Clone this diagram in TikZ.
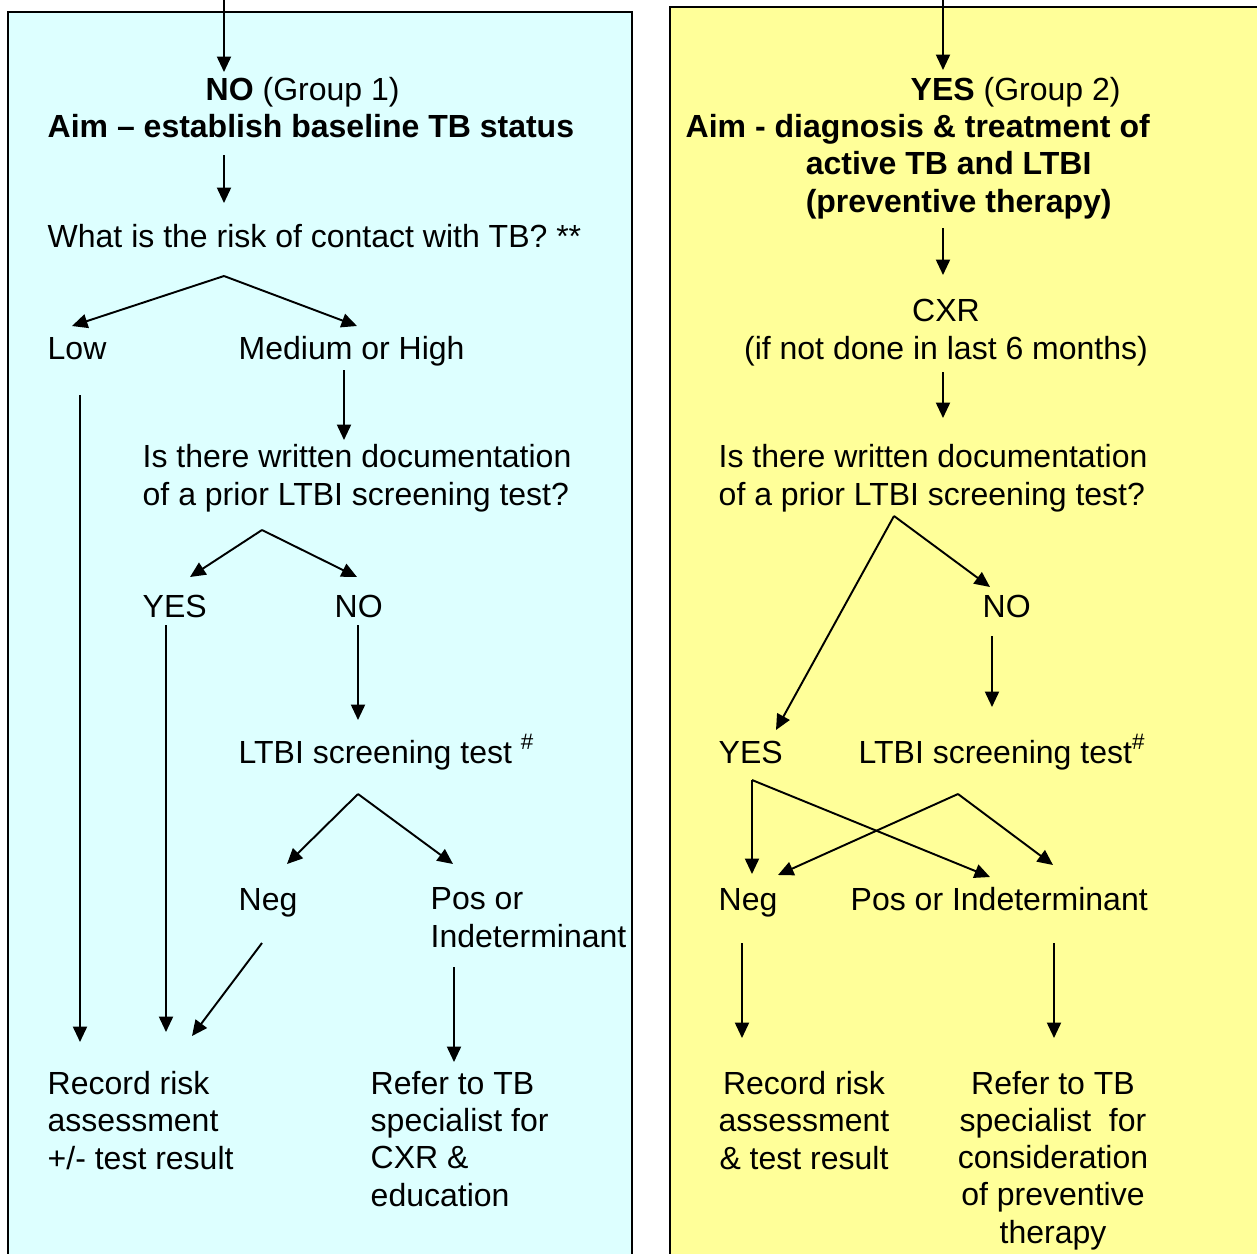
\documentclass[tikz,border=0pt]{standalone}
\usepackage{fontspec}
\setmainfont{Liberation Sans}
\usepackage{tikz}
\usetikzlibrary{calc,arrows.meta}
\definecolor{grpone}{HTML}{DDFFFF}
\definecolor{grptwo}{HTML}{FFFF99}

\begin{document}
\begin{tikzpicture}[x=0.01cm, y=-0.01cm,
    txt/.style={inner sep=0pt, anchor=base west, align=left, font=\fontsize{9.1}{10.53}\selectfont},
    ctxt/.style={txt, anchor=base, align=center},
    arr/.style={line width=0.55pt, -{Triangle[length=4.4pt, width=4pt]}}
]
    \useasboundingbox (0,0) rectangle (1257,1254);
    \clip (0,0) rectangle (1257,1254);

    % the two group panels
    \draw [fill=grpone, line width=0.6pt] (8,12) rectangle (632,1280);
    \draw [fill=grptwo, line width=0.6pt] (670,7) rectangle (1280,1280);

    % group 1 (multi-line nodes sit on their last line)
    \node [txt] (grp1) at (205,100) {\textbf{NO} (Group 1)};
    \node [txt, font=\fontsize{9.1}{10.53}\selectfont\bfseries] (aim1) at (47,137) {Aim \textendash{} establish baseline TB status};
    \node [txt] (risk) at (47,247) {What is the risk of contact with TB? **};
    \node [txt] (low) at (47,359) {Low};
    \node [txt] (med) at (238,359) {Medium or High};
    \node [txt] (doc1) at (142,505) {Is there written documentation\\of a prior LTBI screening test?};
    \node [txt] (yes1) at (142,617) {YES};
    \node [txt] (nob1) at (334,617) {NO};
    \node [txt] (ltbi1) at (238,763) {LTBI screening test \textsuperscript{\#}};
    \node [txt] (neg1) at (238,910) {Neg};
    \node [txt] (pos1) at (430,947) {Pos or\\Indeterminant};
    \node [txt] (rec1) at (47,1169) {Record risk\\assessment\\+/- test result};
    \node [txt] (ref1) at (370,1206) {Refer to TB\\specialist for\\CXR \&\\education};

    % group 2
    \node [txt] (grp2) at (910,100) {\textbf{YES} (Group 2)};
    \node [txt, font=\fontsize{9.1}{10.53}\selectfont\bfseries] (aim2) at (685,212) {Aim - diagnosis \& treatment of\\\hspace*{1.2cm}active TB and LTBI\\\hspace*{1.2cm}(preventive therapy)};
    \node [ctxt] (cxr) at (946,359) {CXR\\(if not done in last 6 months)};
    \node [txt] (doc2) at (718,505) {Is there written documentation\\of a prior LTBI screening test?};
    \node [txt] (nob2) at (982,617) {NO};
    \node [txt] (yes2) at (718,763) {YES};
    \node [txt] (ltbi2) at (858,763) {LTBI screening test\textsuperscript{\#}};
    \node [txt] (neg2) at (718,910) {Neg};
    \node [txt] (pos2) at (850,910) {Pos or Indeterminant};
    \node [ctxt] (rec2) at (804,1169) {Record risk\\assessment\\\& test result};
    \node [ctxt] (ref2) at (1053,1243) {Refer to TB\\specialist\ \ for\\consideration\\of preventive\\therapy};

    % fork points
    \coordinate (top1) at (224,-5);
    \coordinate (top2) at (943,-5);
    \coordinate (fork1) at ($(risk.base west)+(177,29)$);
    \coordinate (fork2) at ($(doc1.base west)+(120,25)$);
    \coordinate (fork3) at ($(ltbi1.base west)+(120,31)$);
    \coordinate (fork4) at ($(doc2.base west)+(176,11)$);
    \coordinate (fork5) at ($(yes2.base west)+(34,17)$);
    \coordinate (fork6) at ($(ltbi2.base west)+(100,31)$);

    % group 1 arrows
    \draw [arr] (top1) -- ($(top1 |- grp1.base)+(0,-28)$);
    \draw [arr] ($(top1 |- aim1.base)+(0,18)$) -- ($(top1 |- risk.base)+(0,-44)$);
    \draw [arr] (fork1) -- ($(low.base west)+(25,-33)$);
    \draw [arr] (fork1) -- ($(med.base west)+(119,-33)$);
    \draw [arr] ($(med.base west)+(106,11)$) -- ($(doc1.base west)+(202,-65)$);
    \draw [arr] (fork2) -- ($(yes1.base west)+(48,-40)$);
    \draw [arr] (fork2) -- ($(nob1.base west)+(23,-40)$);
    \draw [arr] ($(nob1.base west)+(24,8)$) -- ($(ltbi1.base west)+(120,-43)$);
    \draw [arr] (fork3) -- ($(neg1.base west)+(49,-46)$);
    \draw [arr] (fork3) -- ($(pos1.base west)+(23,-83)$);
    \draw [arr] ($(low.base west)+(33,36)$) -- ($(rec1.base west)+(33,-127)$);
    \draw [arr] ($(yes1.base west)+(24,8)$) -- ($(rec1.base west)+(119,-137)$);
    \draw [arr] ($(neg1.base west)+(24,33)$) -- ($(rec1.base west)+(145,-133)$);
    \draw [arr] ($(pos1.base west)+(24,20)$) -- ($(ref1.base west)+(84,-144)$);

    % group 2 arrows
    \draw [arr] (top2) -- ($(top2 |- grp2.base)+(0,-30)$);
    \draw [arr] ($(aim2.base west)+(258,16)$) -- ($(cxr.base)+(-3,-84)$);
    \draw [arr] ($(cxr.base)+(-3,13)$) -- ($(doc2.base west)+(225,-87)$);
    \draw [arr] (fork4) -- ($(yes2.base west)+(58,-33)$);
    \draw [arr] (fork4) -- ($(nob2.base west)+(8,-30)$);
    \draw [arr] ($(nob2.base west)+(10,19)$) -- ($(ltbi2.base west)+(134,-56)$);
    \draw [arr] (fork5) -- ($(neg2.base west)+(34,-36)$);
    \draw [arr] (fork5) -- ($(pos2.base west)+(140,-33)$);
    \draw [arr] (fork6) -- ($(neg2.base west)+(60,-35)$);
    \draw [arr] (fork6) -- ($(pos2.base west)+(203,-45)$);
    \draw [arr] ($(neg2.base west)+(24,33)$) -- ($(rec2.base)+(-62,-131)$);
    \draw [arr] ($(pos2.base west)+(204,33)$) -- ($(ref2.base)+(1,-205)$);
\end{tikzpicture}
\end{document}
